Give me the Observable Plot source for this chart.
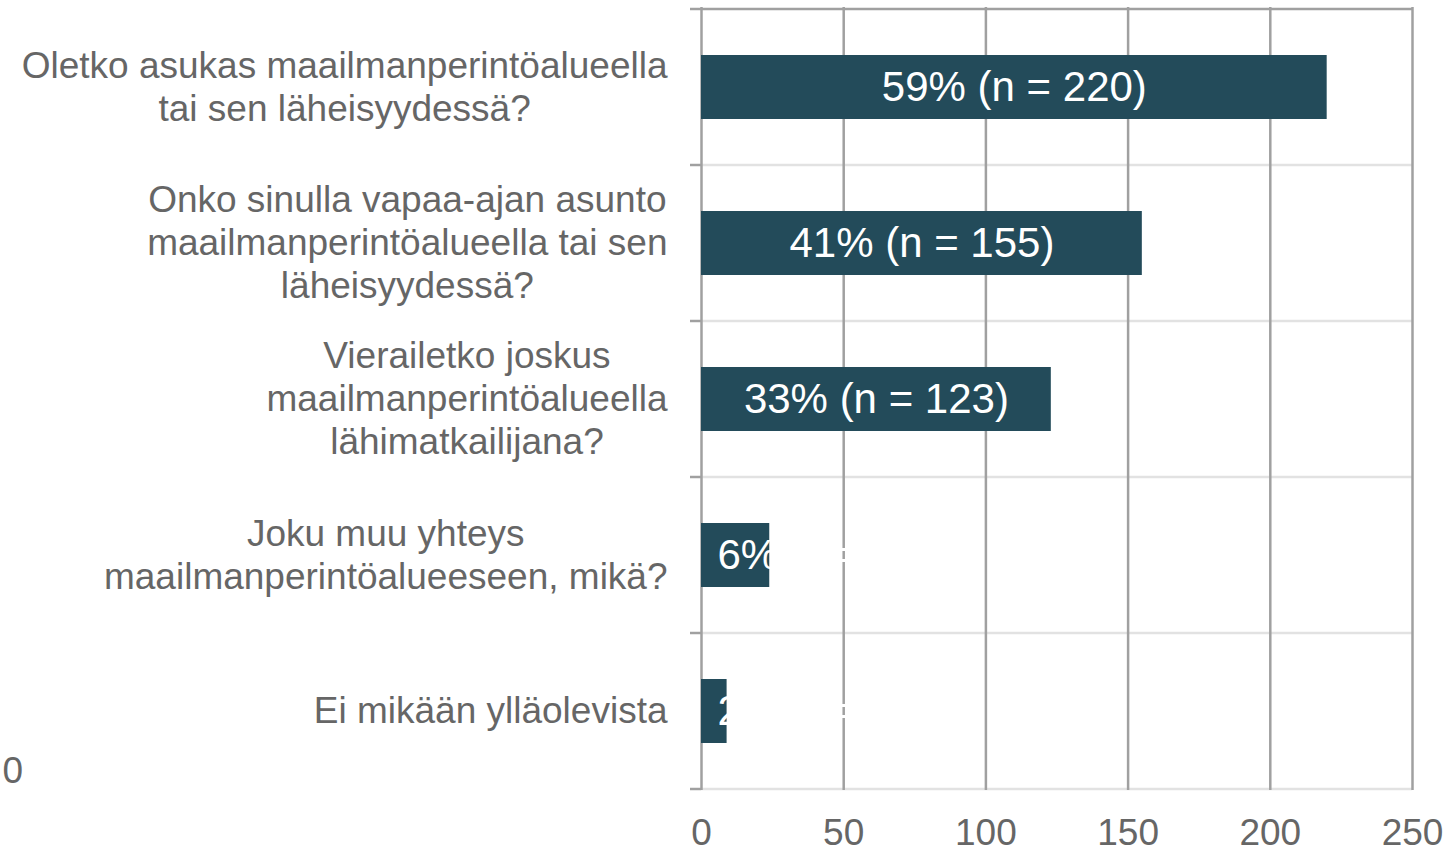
<!DOCTYPE html>
<html>
<head>
<meta charset="utf-8">
<script src="https://cdn.jsdelivr.net/npm/d3@7"></script>
<script src="https://cdn.jsdelivr.net/npm/@observablehq/plot@0.6"></script>
<style>
  html, body { margin: 0; padding: 0; background: #fff; }
  #chart svg { display: block; }
</style>
</head>
<body>
<div id="chart"></div>
<script>
const categories = [
  "Oletko asukas maailmanperintöalueella\ntai sen läheisyydessä?",
  "Onko sinulla vapaa-ajan asunto\nmaailmanperintöalueella tai sen\nläheisyydessä?",
  "Vierailetko joskus\nmaailmanperintöalueella\nlähimatkailijana?",
  "Joku muu yhteys\nmaailmanperintöalueeseen, mikä?",
  "Ei mikään ylläolevista"
];
const counts = [220, 155, 123, 24, 9];
const percents = ["59%", "41%", "33%", "6%", "2%"];
const xTicks = [0, 50, 100, 150, 200, 250];
const strayLabel = "0";

const data = categories.map((c, i) => ({
  category: c,
  value: counts[i],
  label: `${percents[i]} (n = ${counts[i]})`
}));

const FONT = "'Liberation Sans', Arial, sans-serif";
const TEXT = "#666666";
const BAR = "#234b5a";

const ctx = document.createElement("canvas").getContext("2d");
ctx.font = `37px ${FONT}`;
function blockWidth(s) {
  return Math.max(...s.split("\n").map(l => ctx.measureText(l).width));
}

function boundaries(y) {
  const step = y.step();
  const bw = y.bandwidth();
  const bounds = [];
  categories.forEach((c, i) => {
    const ctr = y(c) + bw / 2;
    bounds.push(ctr - step / 2);
    if (i === categories.length - 1) bounds.push(ctr + step / 2);
  });
  return bounds;
}

function bandLines(index, scales, values, dims) {
  const g = d3.create("svg:g");
  const x0 = dims.marginLeft, x1 = dims.width - dims.marginRight;
  boundaries(scales.y).forEach((b, i) => {
    g.append("line")
      .attr("x1", x0).attr("x2", x1).attr("y1", b).attr("y2", b)
      .attr("stroke", i === 0 ? "#a0a0a0" : "#e2e2e2")
      .attr("stroke-width", 2.5);
  });
  return g.node();
}

function bandTicks(index, scales, values, dims) {
  const g = d3.create("svg:g");
  boundaries(scales.y).forEach(b => {
    g.append("line")
      .attr("x1", dims.marginLeft - 11).attr("x2", dims.marginLeft)
      .attr("y1", b).attr("y2", b)
      .attr("stroke", "#a0a0a0").attr("stroke-width", 2.5);
  });
  return g.node();
}

const catMarks = data.map(d => Plot.text([d], {
  frameAnchor: "left",
  y: "category",
  text: "category",
  textAnchor: "middle",
  lineAnchor: "middle",
  lineHeight: 1.162,
  fontSize: 37,
  fill: TEXT,
  dx: -34 - blockWidth(d.category) / 2,
  dy: -2
}));

const chart = Plot.plot({
  width: 1452,
  height: 852,
  marginLeft: 701,
  marginRight: 40,
  marginTop: 7,
  marginBottom: 62,
  style: { fontFamily: FONT, color: TEXT, background: "#fff" },
  x: { domain: [0, 250], axis: null, label: null },
  y: { domain: categories, paddingInner: 0.59, paddingOuter: 0.295, axis: null, label: null },
  marks: [
    bandLines,
    Plot.ruleX(xTicks, { stroke: "#a0a0a0", strokeWidth: 2.5 }),
    Plot.barX(data, { x: "value", y: "category", fill: BAR }),
    Plot.text(data.filter(d => d.value >= 100), {
      x: d => d.value / 2, y: "category", text: "label",
      fill: "white", fontSize: 42, textAnchor: "middle", lineAnchor: "middle"
    }),
    Plot.text(data.filter(d => d.value < 100), {
      x: 0, y: "category", text: "label",
      fill: "white", fontSize: 42, textAnchor: "start", lineAnchor: "middle", dx: 16
    }),
    bandTicks,
    ...catMarks,
    Plot.axisX({ ticks: xTicks, tickSize: 0, tickPadding: 28, fontSize: 37, fill: TEXT, label: null }),
    Plot.text([strayLabel], {
      frameAnchor: "bottom-left", text: d => d, textAnchor: "start", lineAnchor: "middle",
      fontSize: 37, fill: TEXT, dx: -699, dy: -19
    })
  ]
});
document.getElementById("chart").appendChild(chart);
</script>
</body>
</html>
